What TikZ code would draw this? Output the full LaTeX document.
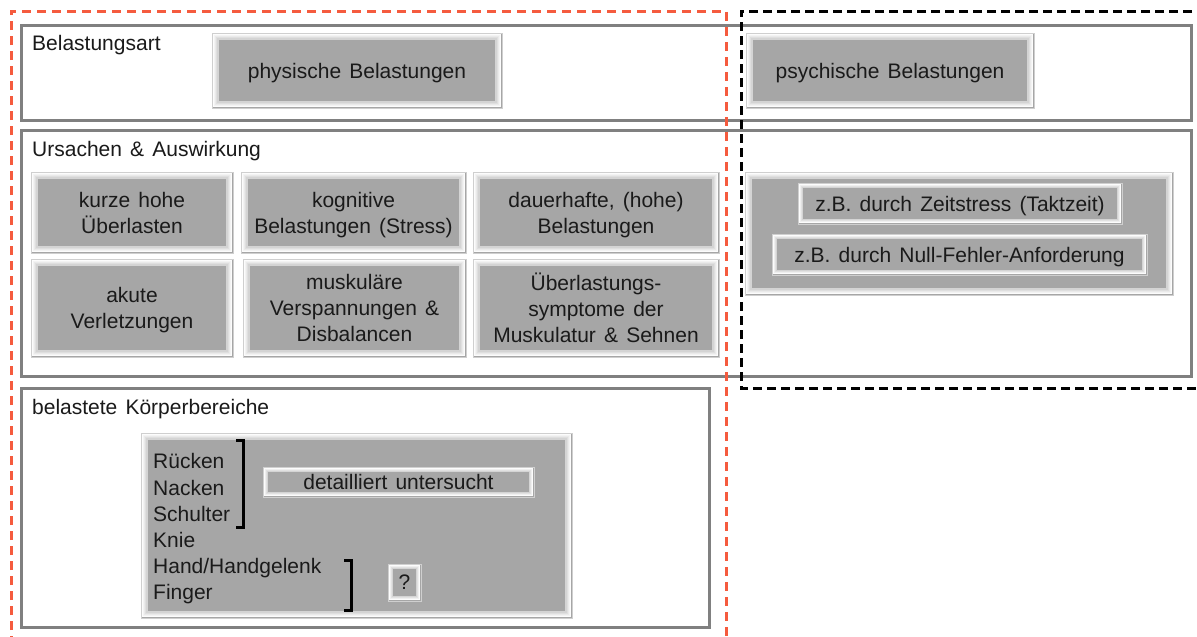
\documentclass[tikz,border=0pt]{standalone}
\usepackage{fontspec}
\setmainfont{Liberation Sans}[WordSpace=1.4]
\usetikzlibrary{calc}

\definecolor{bevfill}{HTML}{A6A6A6}
\definecolor{bevrim}{HTML}{CFCFCF}
\definecolor{framegray}{HTML}{808080}
\definecolor{txt}{HTML}{1A1A1A}
\definecolor{redline}{HTML}{F55B3E}

\tikzset{
  txtfont/.style={font=\fontsize{21}{26}\selectfont, text=txt},
  % raised grey button with a light bevelled rim
  bevel/.style={rectangle, txtfont, fill=bevfill, draw=bevrim, line width=0.8pt,
    inner sep=0pt, align=center, text depth=0pt,
    path picture={
      \foreach \d/\c in {1.7/97, 3.0/86, 4.0/76, 5.0/64, 6.0/52}{
        \draw[line width=1.1pt, draw=white!\c!bevfill]
          ([shift={(\d pt,\d pt)}]path picture bounding box.south west) rectangle
          ([shift={(-\d pt,-\d pt)}]path picture bounding box.north east);
      }
    }},
  bevelsmall/.style={rectangle, txtfont, fill=bevfill, draw=bevrim, line width=0.8pt,
    inner sep=0pt, align=center, text depth=0pt,
    path picture={
      \foreach \d/\c in {1.5/97, 2.6/82, 3.6/66, 4.5/52}{
        \draw[line width=1pt, draw=white!\c!bevfill]
          ([shift={(\d pt,\d pt)}]path picture bounding box.south west) rectangle
          ([shift={(-\d pt,-\d pt)}]path picture bounding box.north east);
      }
    }},
  frame/.style={draw=framegray, line width=3pt, fill=white},
  label/.style={txtfont, anchor=west, inner sep=0pt},
  bracketline/.style={draw=black, line width=3pt},
}

\begin{document}
\begin{tikzpicture}[x=1pt, y=-1pt]
  \useasboundingbox (0,0) rectangle (1197,637);
  \clip (0,0) rectangle (1197,637);
  \fill[white] (0,0) rectangle (1197,637);

  % section frames
  \draw[frame] (21,25) rectangle (1191,120);
  \draw[frame] (21,130) rectangle (1191,376);
  \draw[frame] (21,388) rectangle (709,627);

  % section titles
  \node[label] (tArt) at (32,45) {Belastungsart};
  \node[label] (tUrs) at (32,151) {Ursachen \& Auswirkung};
  \node[label] (tKoe) at (32,409) {belastete Körperbereiche};

  % kind of load
  \node[bevel, minimum width=290, minimum height=75] (phys) at (357,70.5) {physische Belastungen};
  \node[bevel, minimum width=288, minimum height=75] (psych) at (890,70.5) {psychische Belastungen};

  % causes and effects
  \node[bevel, minimum width=202, minimum height=81] (kurz) at (132,212.5) {kurze hohe\\Überlasten};
  \node[bevel, minimum width=225, minimum height=81] (kogn) at (353.5,212.5) {kognitive\\Belastungen (Stress)};
  \node[bevel, minimum width=246, minimum height=81] (dauer) at (596,212.5) {dauerhafte, (hohe)\\Belastungen};
  \node[bevel, minimum width=202, minimum height=98] (akut) at (132,308) {akute\\Verletzungen};
  \node[bevel, minimum width=223, minimum height=98] (musk) at (354.5,308) {muskuläre\\Verspannungen \&\\Disbalancen};
  \node[bevel, minimum width=246, minimum height=98] (ueber) at (596,308) {Überlastungs-\\symptome der\\Muskulatur \& Sehnen};

  \node[bevel, minimum width=428, minimum height=123] (zb) at (959,233.5) {};
  \node[bevelsmall, minimum width=324, minimum height=41] (zeit) at (960,203.5) {z.B. durch Zeitstress (Taktzeit)};
  \node[bevelsmall, minimum width=375, minimum height=41] (null) at (959.5,254.5) {z.B. durch Null-Fehler-Anforderung};

  % body regions
  \node[bevel, minimum width=431, minimum height=185] (koerper) at (356.5,525.5) {};
  \node[font=\fontsize{21}{26.2}\selectfont, text=txt, anchor=west, align=left, inner sep=0pt] (liste) at (153,529)
    {Rücken\\Nacken\\Schulter\\Knie\\Hand/Handgelenk\\Finger};
  \node[bevelsmall, minimum width=271, minimum height=30] (detail) at (398.5,482) {detailliert untersucht};
  \node[bevelsmall, minimum width=33, minimum height=37] (frage) at (404.5,582.5) {?};

  % brackets grouping the list
  \draw[bracketline] (236,440) -- (243,440) -- (243,527) -- (236,527);
  \draw[bracketline] (344,560) -- (351,560) -- (351,610) -- (344,610);

  % dashed groupings
  \draw[redline, line width=3pt, dash pattern=on 9pt off 6pt]
    (11,660) -- (11,11) -- (726,11) -- (726,660);
  \draw[black, line width=3pt, dash pattern=on 9pt off 5pt]
    (1220,11) -- (741,11) -- (741,388) -- (1220,388);
\end{tikzpicture}
\end{document}
